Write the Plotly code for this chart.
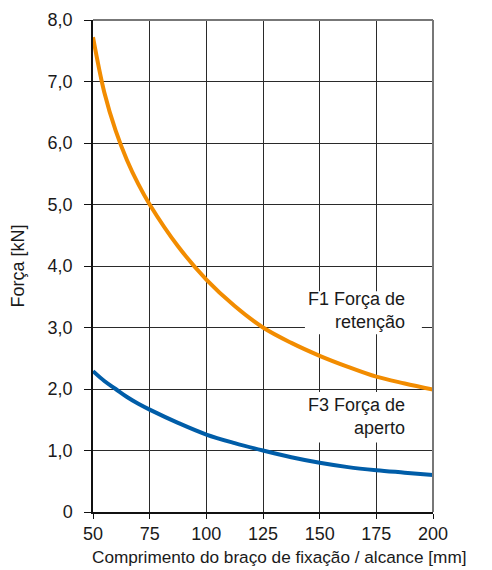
import plotly.graph_objects as go

# Arm length [mm] and force [kN]
arm_length = [50, 55, 60, 65, 70, 75, 87.5, 100, 112.5, 125, 137.5, 150, 162.5, 175, 187.5, 200]
f1_retention = [7.72, 6.82, 6.20, 5.72, 5.33, 5.00, 4.32, 3.78, 3.35, 3.00, 2.75, 2.54, 2.36, 2.20, 2.09, 1.99]
f3_clamping = [2.29, 2.13, 2.00, 1.87, 1.76, 1.665, 1.45, 1.26, 1.12, 1.00, 0.89, 0.80, 0.73, 0.68, 0.64, 0.60]

x_ticks = [50, 75, 100, 125, 150, 175, 200]
y_ticks = [0, 1, 2, 3, 4, 5, 6, 7, 8]
y_tick_text = ["0", "1,0", "2,0", "3,0", "4,0", "5,0", "6,0", "7,0", "8,0"]

ORANGE = "#F28C00"
BLUE = "#005DA8"
TEXT = "#1a1a1a"
FONT = "Liberation Sans, Arial, Helvetica, sans-serif"

fig = go.Figure()

fig.add_trace(go.Scatter(
    x=arm_length, y=f1_retention, mode="lines",
    line=dict(color=ORANGE, width=4, shape="spline", smoothing=1.0),
    name="F1 Força de retenção",
))
fig.add_trace(go.Scatter(
    x=arm_length, y=f3_clamping, mode="lines",
    line=dict(color=BLUE, width=4, shape="spline", smoothing=1.0),
    name="F3 Força de aperto",
))

# white boxes behind the curve labels (hide the grid)
for y0, y1 in [(2.89, 3.59), (1.13, 1.95)]:
    fig.add_shape(type="rect", xref="x", yref="y", x0=143.5, x1=195.1, y0=y0, y1=y1,
                  fillcolor="white", line=dict(width=0), layer="above")

fig.add_annotation(x=188.5, y=3.27, xref="x", yref="y", xanchor="right", yanchor="middle",
                   text="F1 Força de<br>retenção", align="right", showarrow=False,
                   font=dict(family=FONT, size=18, color=TEXT))
fig.add_annotation(x=188.5, y=1.56, xref="x", yref="y", xanchor="right", yanchor="middle",
                   text="F3 Força de<br>aperto", align="right", showarrow=False,
                   font=dict(family=FONT, size=18, color=TEXT))

# x axis title sits left-shifted relative to the plot centre
fig.add_annotation(x=-0.009, y=-0.091, xref="paper", yref="paper", xanchor="left", yanchor="middle",
                   text="Comprimento do braço de fixação / alcance [mm]", showarrow=False,
                   font=dict(family=FONT, size=17.2, color=TEXT))

# grey top and right frame
fig.add_shape(type="line", xref="paper", yref="paper", x0=0, x1=1, y0=1, y1=1,
              line=dict(color="#777777", width=2))
fig.add_shape(type="line", xref="paper", yref="paper", x0=1, x1=1, y0=0, y1=1,
              line=dict(color="#777777", width=2))

fig.update_xaxes(
    range=[50, 200], tickvals=x_ticks, ticks="outside", ticklen=5, tickcolor="#111",
    showgrid=True, gridcolor="#2a2a2a", gridwidth=1.3,
    showline=True, linecolor="#111", linewidth=1.5, zeroline=False, automargin=False,
    tickfont=dict(family=FONT, size=18, color=TEXT),
)
fig.update_yaxes(
    range=[0, 8], tickvals=y_ticks, ticktext=y_tick_text, ticks="outside", ticklen=7,
    tickcolor="#111", showgrid=True, gridcolor="#2a2a2a", gridwidth=1.3,
    showline=True, linecolor="#111", linewidth=1.5, zeroline=False, automargin=False,
    ticklabelstandoff=8,
    tickfont=dict(family=FONT, size=18, color=TEXT),
    title=dict(text="Força [kN]", font=dict(family=FONT, size=18, color=TEXT), standoff=21),
)

# the page body keeps its default 8px margin, so the figure is 8px smaller on each axis
fig.update_layout(
    width=484, height=562,
    margin=dict(l=85, r=59, t=12, b=58),
    plot_bgcolor="white", paper_bgcolor="white",
    showlegend=False,
)

fig.write_html("out.html")
